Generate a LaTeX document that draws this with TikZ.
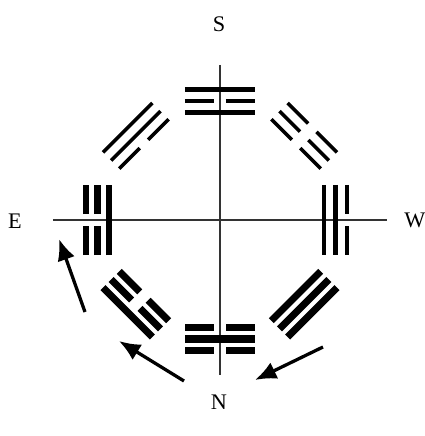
\documentclass[tikz,border=0pt]{standalone}
\usepackage{fontspec}
\setmainfont{Liberation Serif}
\usetikzlibrary{arrows.meta}

\begin{document}
\begin{tikzpicture}[
  x=0.3mm,y=0.3mm,
  axisline/.style={draw=black!80,line width=0.9pt},
  yao/.style={draw=black,line cap=butt},
  arr/.style={-{Latex[length=6.4mm,width=5.4mm]},line width=2.8pt,draw=black},
  dirlabel/.style={font=\fontsize{19}{22}\selectfont,text=black,inner sep=0pt}
]
\useasboundingbox (-220,-216) rectangle (205,220);
% axes
\draw[axisline] (0,155) -- (0,-155);
\draw[axisline] (-167,0) -- (167,0);
% compass labels
\node[dirlabel] (south) at (-1,196) {S};
\node[dirlabel] (north) at (-1,-182) {N};
\node[dirlabel] (east) at (-205,-1) {E};
\node[dirlabel] (west) at (195,0) {W};
% trigrams: angle / inner / middle / outer / width / x shift
\foreach \ang/\a/\b/\c/\wd/\dx in {90/1/0/1/3.8/0, 135/0/1/1/3/0, 180/1/0/0/5.4/-3.5, 225/0/0/1/6/0, 270/0/1/0/6.4/0, 315/1/1/1/6/0, 0/1/1/0/3.8/-3.5, 45/0/0/0/3/0}{
  \begin{scope}[shift={(\dx,0)},rotate=\ang-90]
    \foreach \bit/\k in {\a/-1,\b/0,\c/1}{
      \pgfmathsetmacro\rr{119+11.5*\k}
      \ifnum\bit=1
        \draw[yao,line width=\wd pt] (-35,\rr) -- (35,\rr);
      \else
        \draw[yao,line width=\wd pt] (-35,\rr) -- (-6,\rr) (6,\rr) -- (35,\rr);
      \fi
    }
  \end{scope}
}
% arrows
\coordinate (a1s) at (-135,-92);
\coordinate (a1e) at (-161,-19);
\coordinate (a2s) at (-36,-161);
\coordinate (a2e) at (-101,-121);
\coordinate (a3s) at (103,-127);
\coordinate (a3e) at (35,-160);
\draw[arr] (a1s) -- (a1e);
\draw[arr] (a2s) -- (a2e);
\draw[arr] (a3s) -- (a3e);
\end{tikzpicture}
\end{document}
